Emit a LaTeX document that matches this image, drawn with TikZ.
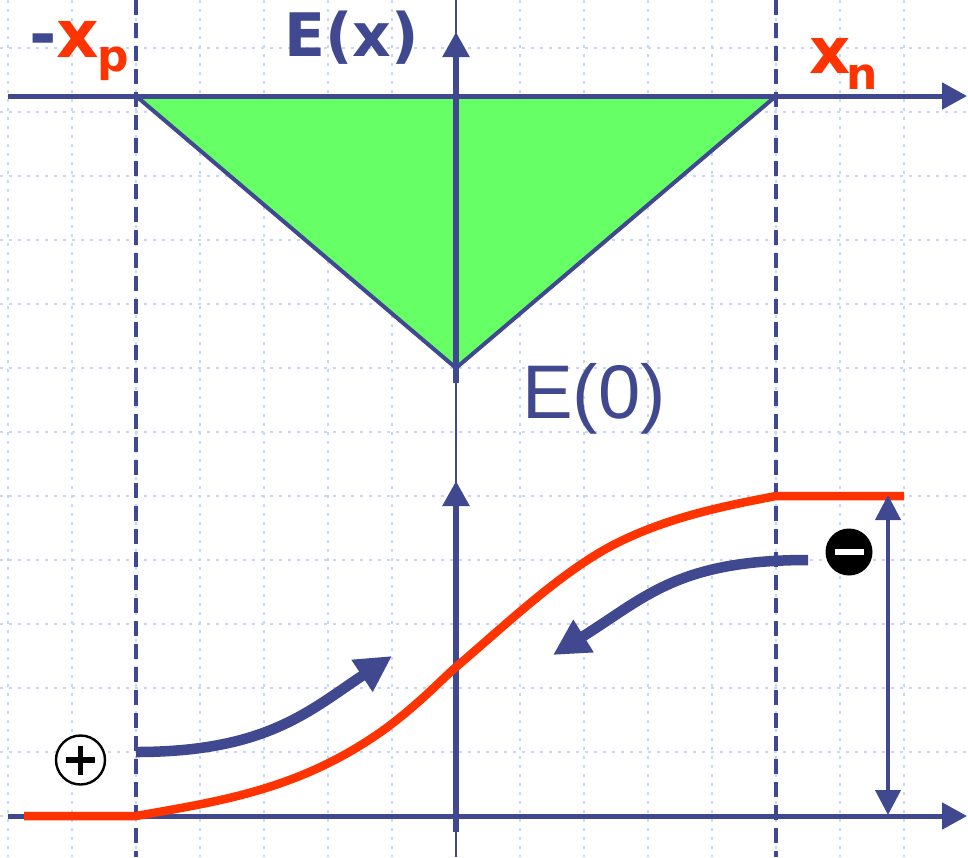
\documentclass[tikz,border=0pt]{standalone}
\usepackage{fontspec}
\setmainfont{Liberation Sans}
\newfontfamily\dejavu{DejaVu Sans}
\usetikzlibrary{arrows.meta}
\definecolor{axisblue}{RGB}{64,72,144}
\definecolor{fillgreen}{RGB}{102,255,102}
\definecolor{curvered}{RGB}{255,51,0}
\definecolor{gridblue}{RGB}{200,214,248}
\begin{document}
\begin{tikzpicture}[x=1pt,y=-1pt,
  gridline/.style={gridblue,line width=2pt,dash pattern=on 3pt off 6pt},
  boundary/.style={axisblue,line width=4pt,dash pattern=on 15pt off 8pt},
  axisline/.style={axisblue,line width=5pt,-{Triangle[length=25pt,width=26pt]}},
  vaxis/.style={axisblue,line width=5.5pt,-{Triangle[length=25pt,width=26pt]}},
  carrier/.style={axisblue,line width=10.5pt,-{Triangle[length=36pt,width=36pt]}},
  potential/.style={curvered,line width=8.5pt,line join=round},
  lbl/.style={inner sep=0pt,anchor=base west},
]
\useasboundingbox (0,0) rectangle (968,857);
\fill[white] (0,0) rectangle (968,857);
% grid
\foreach \x in {8,72,...,904} \draw[gridline] (\x,0) -- (\x,857);
\foreach \y in {48,112,...,816} \draw[gridline] (0,\y) -- (968,\y);
% coordinates
\coordinate (xpT) at (136,96);
\coordinate (xnT) at (776,96);
\coordinate (E0) at (456,368);
\coordinate (topL) at (8,96);
\coordinate (topR) at (967,96);
\coordinate (botL) at (8,816);
\coordinate (botR) at (967,816);
\coordinate (upS) at (456,383);
\coordinate (upE) at (456,32);
\coordinate (loS) at (456,832);
\coordinate (loE) at (456,481);
% field triangle
\fill[fillgreen] (xpT) -- (E0) -- (xnT) -- cycle;
\draw[axisblue,line width=4pt,line join=miter] (xpT) -- (E0) -- (xnT);
% depletion edges
\draw[boundary] (136,0) -- (136,857);
\draw[boundary] (776,0) -- (776,857);
% thin centre line
\draw[axisblue,line width=1.8pt] (456,0) -- (456,857);
% axes
\draw[axisline] (topL) -- (topR);
\draw[axisline] (botL) -- (botR);
\draw[vaxis] (upS) -- (upE);
\draw[vaxis] (loS) -- (loE);
% potential curve
\draw[potential] (24,816) -- (136,816) .. controls (220,801) and (300,790) .. (385,729) .. controls (420,703) and (440,681) .. (456,667) .. controls (500,630) and (560,572) .. (615,544) .. controls (670,516) and (730,505) .. (776,496) -- (904,496);
% built-in potential arrow
\coordinate (vbT) at (888,495);
\coordinate (vbB) at (888,815);
\draw[axisblue,line width=4pt,{Triangle[length=25pt,width=25pt]}-{Triangle[length=25pt,width=25pt]}] (vbT) -- (vbB);
% carriers
\node[circle,draw=black,line width=2.4pt,fill=white,minimum size=49pt,inner sep=0pt] (hole) at (80.5,760) {};
\draw[black,line width=5.5pt] ([xshift=-14.5pt]hole.center) -- ([xshift=14.5pt]hole.center);
\draw[black,line width=5.5pt] ([yshift=-14.5pt]hole.center) -- ([yshift=14.5pt]hole.center);
\node[circle,fill=black,minimum size=47pt,inner sep=0pt] (elec) at (849,552) {};
\fill[white] ([xshift=-14.5pt,yshift=-3.4pt]elec.center) rectangle ([xshift=14.5pt,yshift=3.4pt]elec.center);
\coordinate (hS) at (136,752);
\coordinate (hE) at (392,656);
\coordinate (eS) at (808,560);
\coordinate (eE) at (553,655);
\draw[carrier] (hS) .. controls (266,752) and (309,711) .. (hE);
\draw[carrier] (eS) .. controls (678,560) and (646,597) .. (eE);
% labels
\node[lbl,font=\dejavu\bfseries\fontsize{60}{62}\selectfont,text=axisblue] (Ex) at (284,56) {E(x)};
\node[lbl,font=\dejavu\bfseries\fontsize{66}{68}\selectfont] (xp) at (29,57) {\textcolor{axisblue}{-}\textcolor{curvered}{x\kern-2pt\raisebox{-14pt}{\fontsize{44}{44}\selectfont p}}};
\node[lbl,font=\dejavu\bfseries\fontsize{64}{66}\selectfont,text=curvered] (xn) at (809,73) {x\kern-4pt\raisebox{-16pt}{\fontsize{44}{44}\selectfont n}};
\node[lbl,font=\fontsize{76}{78}\selectfont,text=axisblue] (E0l) at (522,418) {E(0)};
\end{tikzpicture}
\end{document}
